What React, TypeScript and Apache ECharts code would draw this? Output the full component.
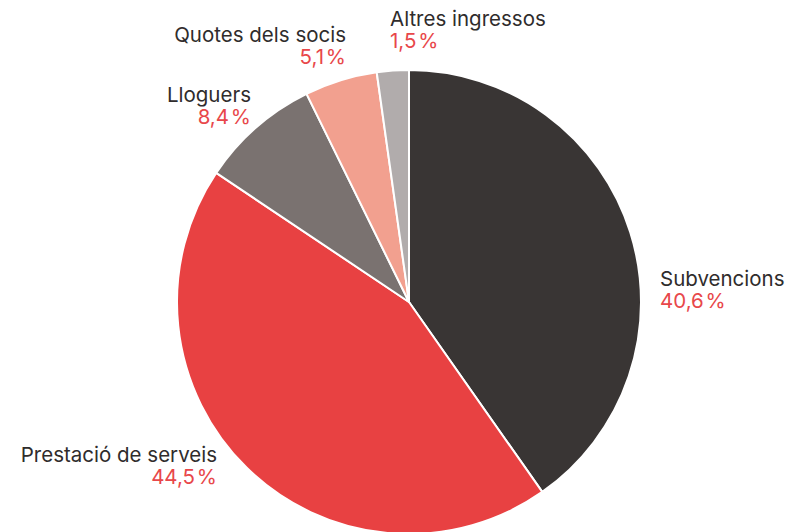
import React, { useEffect, useRef } from "react";
import * as echarts from "echarts";

const categories = ["Subvencions", "Prestació de serveis", "Lloguers", "Quotes dels socis", "Altres ingressos"];
const values = [40.6, 44.5, 8.4, 5.1, 1.5];
const pctLabels = ["40,6\u200A%", "44,5\u200A%", "8,4\u200A%", "5,1\u200A%", "1,5\u200A%"];
const colors = ["#393534", "#e84142", "#7a7270", "#f2a08f", "#b1acac"];

// label anchor positions (layout only)
const labelPos = [
  { x: 660, y: 267, align: "left" },
  { x: 217, y: 443, align: "right" },
  { x: 251, y: 83, align: "right" },
  { x: 346, y: 23, align: "right" },
  { x: 390, y: 7, align: "left" },
];

export default function App() {
  const ref = useRef<HTMLDivElement>(null);
  useEffect(() => {
    const chart = echarts.init(ref.current!, null, { renderer: "svg" });
    chart.setOption({
      animation: false,
      backgroundColor: "#ffffff",
      series: [
        {
          type: "pie",
          center: [409, 302],
          radius: 232,
          startAngle: 90,
          clockwise: true,
          minAngle: 8,
          avoidLabelOverlap: false,
          itemStyle: { borderColor: "#ffffff", borderWidth: 2 },
          labelLine: { show: false },
          label: {
            show: true,
            position: "outside",
            formatter: (p: any) => `{n|${p.name}}\n{p|${pctLabels[p.dataIndex]}}`,
            rich: {
              n: { fontFamily: "Inter", fontSize: 20.5, color: "#2f2c2c", lineHeight: 22 },
              p: { fontFamily: "Inter", fontSize: 20.5, color: "#e8474a", lineHeight: 22 },
            },
          },
          labelLayout: (params: any) => {
            const l = labelPos[params.dataIndex];
            return { x: l.x, y: l.y, align: l.align, verticalAlign: "top" };
          },
          data: categories.map((c, i) => ({
            name: c,
            value: values[i],
            itemStyle: { color: colors[i] },
            label: { align: labelPos[i].align },
          })),
        },
      ],
    });
    return () => chart.dispose();
  }, []);
  return <div ref={ref} style={{ position: "fixed", left: 0, top: 0, width: 792, height: 532 }} />;
}
